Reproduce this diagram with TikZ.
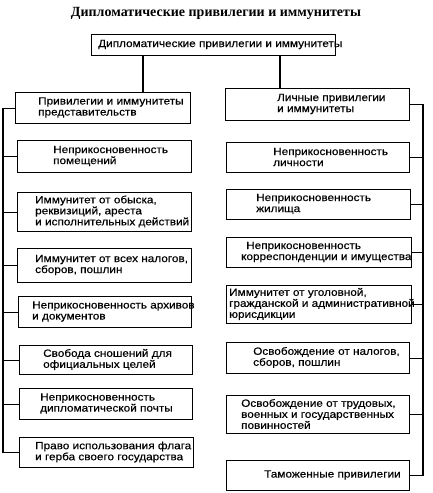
\documentclass[tikz,border=0pt]{standalone}
\usepackage{fontspec}
\setmainfont{Liberation Serif}
\newfontfamily\boxfont[FakeStretch=1.12,FakeBold=0.4]{Liberation Sans}
\begin{document}
\begin{tikzpicture}[x=1pt,y=-1pt,
  boxst/.style={draw=black, line width=1.1pt, fill=white, inner sep=0pt},
  txt/.style={font=\boxfont\fontsize{10.5}{11}\selectfont, align=left, inner sep=0pt},
  conn/.style={draw=black, line width=1.1pt}]
\useasboundingbox (0,0) rectangle (432,493);
\newcommand\mybox[7]{%
  \pgfmathsetmacro\bw{#4-#2}\pgfmathsetmacro\bh{#5-#3}%
  \node[boxst, anchor=north west, minimum width=\bw pt, minimum height=\bh pt] (#1) at (#2,#3) {};
  \node[txt, anchor=west] (#1t) at (#6,{(#3+#5)/2}) {#7};}
\node[font=\bfseries\fontsize{14}{16}\selectfont] (title) at (216,13) {Дипломатические привилегии и иммунитеты};
\mybox{T}{91}{34}{335}{55}{98}{Дипломатические привилегии и иммунитеты}
\mybox{L0}{15}{92}{190}{123}{38}{Привилегии и иммунитеты\\представительств}
\mybox{L1}{17}{140}{191}{172}{53}{Неприкосновенность\\помещений}
\mybox{L2}{17}{192}{191}{231}{35}{Иммунитет от обыска,\\реквизиций, ареста\\и исполнительных действий}
\mybox{L3}{17}{248}{191}{282}{35}{Иммунитет от всех налогов,\\сборов, пошлин}
\mybox{L4}{18}{296}{191}{327}{32}{Неприкосновенность архивов\\и документов}
\mybox{L5}{19}{345}{192}{374}{43}{Свобода сношений для\\официальных целей}
\mybox{L6}{19}{388}{192}{419}{40}{Неприкосновенность\\дипломатической почты}
\mybox{L7}{19}{437}{193}{467}{35}{Право использования флага\\и герба своего государства}
\mybox{R0}{225}{88}{409}{120}{277}{Личные привилегии\\и иммунитеты}
\mybox{R1}{226}{142}{409}{172}{273}{Неприкосновенность\\личности}
\mybox{R2}{226}{189}{410}{219}{256}{Неприкосновенность\\жилища}
\mybox{R3}{226}{237}{411}{267}{241}{\hspace{5pt}Неприкосновенность\\корреспонденции и имущества}
\mybox{R4}{226}{285}{411}{323}{229}{Иммунитет от уголовной,\\гражданской и административной\\юрисдикции}
\mybox{R5}{226}{342}{409}{373}{253}{Освобождение от налогов,\\сборов, пошлин}
\mybox{R6}{226}{395}{409}{433}{241}{Освобождение от трудовых,\\военных и государственных\\повинностей}
\mybox{R7}{226}{460}{409}{490}{264}{Таможенные привилегии}
\coordinate (xl) at (143,0);
\coordinate (xr) at (280,0);
\coordinate (busL) at (3,0);
\coordinate (busR) at (423,0);
\draw[conn] (xl |- T.south) -- (xl |- L0.north);
\draw[conn] (xr |- T.south) -- (xr |- R0.north);
\draw[conn] (L0.west) -- (L0.west -| busL) -- (L7.west -| busL) -- (L7.west);
\foreach \n in {L1,L2,L3,L4,L5,L6} \draw[conn] (\n.west) -- (\n.west -| busL);
\draw[conn] (R0.east) -- (R0.east -| busR) -- (R7.east -| busR) -- (R7.east);
\foreach \n in {R1,R2,R3,R4,R5,R6} \draw[conn] (\n.east) -- (\n.east -| busR);
\end{tikzpicture}
\end{document}
